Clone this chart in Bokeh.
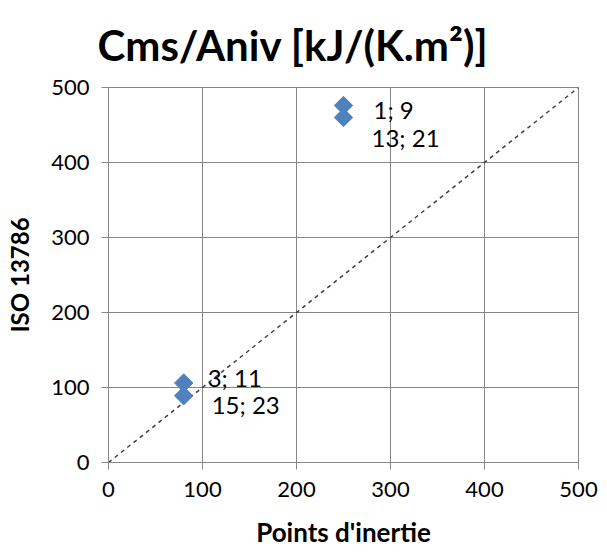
import math
from bokeh.plotting import figure
from bokeh.models import ColumnDataSource, Range1d, FixedTicker, LabelSet, Title
from bokeh.core.properties import value
from bokeh.embed import file_html
from bokeh.resources import INLINE

# Data
points_inertie = [250, 250, 80, 80]
iso_13786 = [476, 460, 106, 89]
point_labels = ["1; 9", "13; 21", "3; 11", "15; 23"]
label_dx = [30, 28, 24, 28]
label_dy = [-4, -20, 6, -9]
diag_x = [0, 500]
diag_y = [0, 500]
ticks = [0, 100, 200, 300, 400, 500]
title_text = "Cms/Aniv [kJ/(K.m²)]"

FONT = "Lato"

p = figure(width=607, height=552, output_backend="svg", toolbar_location=None,
           x_range=Range1d(0, 500), y_range=Range1d(0, 500),
           frame_width=470, frame_height=375,
           min_border_left=108, min_border_right=29, min_border_top=87, min_border_bottom=90)

t = Title(text=title_text, align="left", offset=-11, standoff=32, vertical_align="top",
          text_font=FONT, text_font_size="42px", text_font_style="bold", text_color="#000000")
p.add_layout(t, "above")

p.line(diag_x, diag_y, line_color="#404040", line_dash="4 4", line_width=1.5)

src = ColumnDataSource(dict(x=points_inertie, y=iso_13786, lab=point_labels, dx=label_dx, dy=label_dy))
p.scatter("x", "y", source=src, marker="square", angle=math.pi / 4, size=13,
          fill_color="#4F81BD", line_color="#4F81BD")

labels = LabelSet(x="x", y="y", text="lab", source=src, x_offset="dx", y_offset="dy",
                  text_font=value(FONT), text_font_size="24px", text_color="#000000",
                  text_baseline="middle", text_align="left")
p.add_layout(labels)

for ax in (p.xaxis[0], p.yaxis[0]):
    ax.ticker = FixedTicker(ticks=ticks)
    ax.major_label_text_font = FONT
    ax.major_label_text_font_size = "22px"
    ax.major_label_text_color = "#000000"
    ax.axis_line_color = "#868686"
    ax.major_tick_line_color = "#868686"
    ax.major_tick_in = 0
    ax.major_tick_out = 7
    ax.minor_tick_line_color = None
    ax.axis_label_text_font = FONT
    ax.axis_label_text_font_size = "24px"
    ax.axis_label_text_font_style = "bold"
    ax.axis_label_text_color = "#000000"

p.xaxis.axis_label = "Points d'inertie"
p.xaxis.axis_label_text_font_size = "26px"
p.yaxis.axis_label = "ISO 13786"
p.xaxis.major_label_standoff = 12
p.yaxis.major_label_standoff = 12
p.xaxis.axis_label_standoff = 16
p.yaxis.axis_label_standoff = 14

p.xgrid.ticker = FixedTicker(ticks=ticks)
p.ygrid.ticker = FixedTicker(ticks=ticks)
p.grid.grid_line_color = "#868686"
p.grid.grid_line_width = 1
p.outline_line_color = "#868686"
p.outline_line_width = 1
p.background_fill_color = "white"
p.border_fill_color = "white"

open("out.html", "w").write(file_html(p, INLINE))
